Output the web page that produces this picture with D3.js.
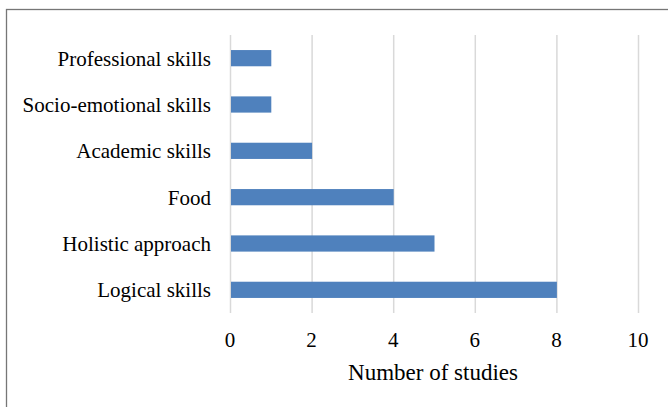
<!DOCTYPE html>
<html><head><meta charset="utf-8">
<script src="https://cdn.jsdelivr.net/npm/d3@7"></script>
<style>body{margin:0;background:#fff}svg{display:block}text{font-family:"Liberation Serif","Times New Roman",serif;fill:#000}</style>
</head><body>
<svg id="c" width="668" height="407"></svg>
<script>
const categories = ["Professional skills","Socio-emotional skills","Academic skills","Food","Holistic approach","Logical skills"];
const values = [1,1,2,4,5,8];
const xTicks = [0,2,4,6,8,10];
const xTitle = "Number of studies";

const svg = d3.select("#c");
svg.append("rect").attr("x",6.5).attr("y",9.5).attr("width",670).attr("height",410)
  .attr("fill","none").attr("stroke","#767676").attr("stroke-width",1.3);

const x = d3.scaleLinear().domain([0,10]).range([230,638]);
const y = d3.scaleBand().domain(categories).range([35,313]).paddingInner(0.65).paddingOuter(0.325);

svg.append("g").selectAll("line").data(xTicks).join("line")
  .attr("x1",d=>x(d)+0.5).attr("x2",d=>x(d)+0.5).attr("y1",35).attr("y2",313)
  .attr("stroke","#d9d9d9").attr("stroke-width",1.5);

svg.append("g").selectAll("rect").data(values).join("rect")
  .attr("x",x(0)+1).attr("y",(d,i)=>y(categories[i]))
  .attr("width",d=>x(d)-x(0)-0.5).attr("height",y.bandwidth())
  .attr("fill","#4f81bd");

svg.append("g").selectAll("text").data(categories).join("text")
  .attr("x",211).attr("y",d=>y(d)+y.bandwidth()/2).attr("dy","0.35em")
  .attr("text-anchor","end").attr("font-size",21).text(d=>d);

svg.append("g").selectAll("text").data(xTicks).join("text")
  .attr("x",d=>x(d)).attr("y",340).attr("dy","0.35em")
  .attr("text-anchor","middle").attr("font-size",21).text(d=>d);

svg.append("text").attr("x",433).attr("y",372).attr("dy","0.35em")
  .attr("text-anchor","middle").attr("font-size",23).text(xTitle);
</script>
</body></html>
